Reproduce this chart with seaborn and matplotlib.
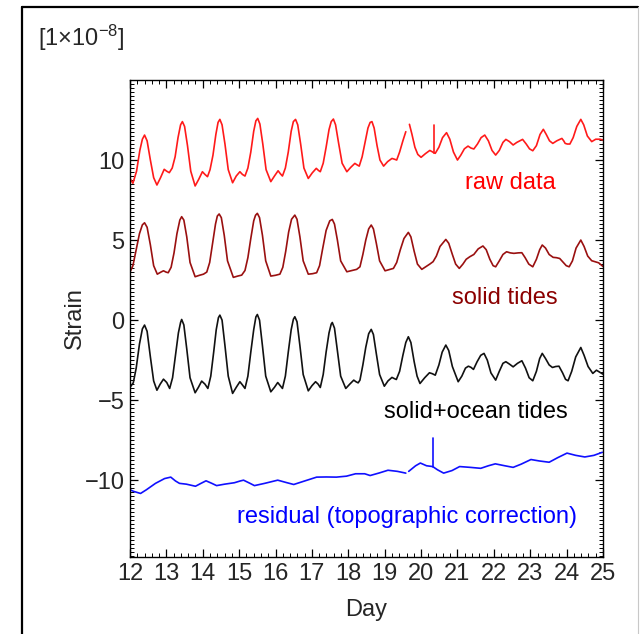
import numpy as np
import pandas as pd
import seaborn as sns
import matplotlib
matplotlib.use("Agg")
import matplotlib.pyplot as plt
from matplotlib.ticker import MultipleLocator, FixedLocator
from matplotlib.lines import Line2D

# ---------------- data ----------------
raw_day_a = [12.00, 12.08, 12.18, 12.27, 12.34, 12.40, 12.47, 12.56, 12.65, 12.74, 12.84, 12.94, 13.01, 13.08,
             13.16, 13.24, 13.32, 13.39, 13.44, 13.50, 13.58, 13.67, 13.79, 13.89, 13.99, 14.06, 14.13, 14.20,
             14.28, 14.36, 14.42, 14.47, 14.53, 14.61, 14.70, 14.82, 14.92, 15.02, 15.09, 15.16, 15.24, 15.32,
             15.40, 15.46, 15.51, 15.57, 15.65, 15.74, 15.87, 15.97, 16.07, 16.13, 16.19, 16.27, 16.35, 16.43,
             16.49, 16.55, 16.61, 16.69, 16.78, 16.90, 17.01, 17.12, 17.18, 17.23, 17.31, 17.39, 17.47, 17.53,
             17.59, 17.65, 17.73, 17.83, 17.96, 18.07, 18.18, 18.24, 18.30, 18.38, 18.46, 18.54, 18.60, 18.65,
             18.71, 18.79, 18.87, 18.97, 19.08, 19.20, 19.27, 19.33, 19.41, 19.50, 19.58]
raw_val_a = [8.85, 8.55, 9.3, 10.6, 11.3, 11.56, 11.2, 10.0, 8.9, 8.44, 8.9, 9.42, 9.3, 9.21,
             9.5, 10.2, 11.4, 12.2, 12.40, 12.1, 10.9, 9.3, 8.38, 8.8, 9.27, 9.1, 8.96, 9.4,
             10.3, 11.6, 12.35, 12.54, 12.2, 11.0, 9.4, 8.58, 9.0, 9.27, 9.1, 9.0, 9.5, 10.5,
             11.8, 12.45, 12.6, 12.25, 11.0, 9.4, 8.65, 9.0, 9.33, 9.15, 9.0, 9.5, 10.5, 11.8,
             12.4, 12.54, 12.2, 11.0, 9.5, 8.85, 9.2, 9.48, 9.35, 9.27, 9.8, 10.8, 11.9, 12.4,
             12.56, 12.2, 11.1, 9.8, 9.27, 9.55, 9.79, 9.7, 9.62, 10.2, 11.1, 12.0, 12.35, 12.40,
             12.0, 10.9, 10.0, 9.62, 9.9, 10.1, 10.05, 10.0, 10.5, 11.2, 11.77]
raw_day_b = [19.68, 19.75, 19.83, 19.91, 20.00, 20.12, 20.24, 20.32, 20.35, 20.39, 20.49, 20.59, 20.70, 20.79,
             20.89, 21.00, 21.09, 21.19, 21.29, 21.37, 21.45, 21.55, 21.65, 21.75, 21.85, 21.95, 22.05, 22.15,
             22.25, 22.33, 22.43, 22.53, 22.63, 22.79, 22.89, 22.98, 23.07, 23.17, 23.27, 23.36, 23.44, 23.53,
             23.62, 23.73, 23.87, 23.92, 23.96, 24.02, 24.09, 24.18, 24.28, 24.39, 24.47, 24.57, 24.69, 24.80,
             24.92, 25.00]
raw_val_b = [12.23, 11.6, 10.8, 10.35, 10.17, 10.4, 10.6, 10.5, 10.45, 10.42, 10.8, 11.4, 11.71, 11.3,
             10.5, 10.0, 10.3, 10.7, 10.87, 10.75, 10.69, 11.0, 11.4, 11.56, 11.2, 10.6, 10.31, 10.6,
             11.1, 11.29, 11.15, 10.94, 11.1, 11.29, 11.0, 10.7, 10.58, 10.9, 11.6, 11.92, 11.6, 11.2,
             11.04, 11.2, 11.35, 11.2, 11.04, 11.0, 11.0, 11.4, 12.1, 12.54, 12.2, 11.5, 11.15, 11.3,
             11.3, 11.25]
raw_spike_day = [20.35, 20.35]
raw_spike_val = [10.45, 12.19]

solid_day = [12.00, 12.08, 12.16, 12.26, 12.34, 12.40, 12.47, 12.56, 12.65, 12.75, 12.85, 12.92, 12.99, 13.05,
             13.13, 13.21, 13.29, 13.37, 13.42, 13.48, 13.56, 13.65, 13.79, 13.91, 14.02, 14.11, 14.19, 14.27,
             14.35, 14.40, 14.45, 14.51, 14.59, 14.68, 14.84, 14.96, 15.07, 15.16, 15.24, 15.32, 15.40, 15.45,
             15.50, 15.56, 15.64, 15.73, 15.87, 16.00, 16.12, 16.20, 16.28, 16.36, 16.44, 16.53, 16.59, 16.67,
             16.76, 16.90, 17.02, 17.13, 17.21, 17.29, 17.39, 17.49, 17.56, 17.62, 17.70, 17.79, 17.96, 18.11,
             18.23, 18.32, 18.40, 18.48, 18.56, 18.63, 18.69, 18.77, 18.86, 19.01, 19.12, 19.24, 19.33, 19.43,
             19.53, 19.65, 19.72, 19.81, 19.90, 20.02, 20.14, 20.24, 20.33, 20.42, 20.52, 20.68, 20.76, 20.86,
             20.95, 21.05, 21.15, 21.24, 21.34, 21.45, 21.57, 21.70, 21.79, 21.89, 21.98, 22.05, 22.15, 22.25,
             22.35, 22.45, 22.55, 22.67, 22.77, 22.86, 22.96, 23.07, 23.17, 23.26, 23.33, 23.42, 23.52, 23.63,
             23.72, 23.81, 23.91, 23.99, 24.07, 24.16, 24.26, 24.39, 24.48, 24.58, 24.69, 24.78, 24.88, 25.00]
solid_val = [3.00, 3.4, 4.3, 5.4, 5.95, 6.08, 5.8, 4.7, 3.4, 2.87, 3.0, 3.08, 3.0, 2.96,
             3.3, 4.2, 5.4, 6.25, 6.46, 6.25, 5.2, 3.6, 2.71, 2.8, 2.87, 3.0, 3.6, 4.8,
             6.0, 6.5, 6.63, 6.4, 5.3, 3.7, 2.67, 2.75, 2.81, 3.1, 3.9, 5.1, 6.2, 6.55,
             6.67, 6.4, 5.3, 3.7, 2.75, 2.8, 2.87, 3.3, 4.3, 5.5, 6.3, 6.56, 6.3, 5.2,
             3.7, 2.87, 2.9, 2.96, 3.4, 4.4, 5.6, 6.2, 6.29, 6.0, 5.0, 3.7, 3.02, 3.1,
             3.17, 3.33, 4.1, 5.0, 5.7, 5.94, 5.7, 4.8, 3.7, 3.08, 3.15, 3.23, 3.6, 4.4,
             5.1, 5.48, 5.2, 4.3, 3.5, 3.17, 3.35, 3.5, 3.65, 4.0, 4.6, 5.04, 4.8, 4.1,
             3.5, 3.23, 3.5, 3.8, 3.96, 4.1, 4.45, 4.63, 4.4, 3.8, 3.4, 3.33, 3.7, 4.1,
             4.27, 4.2, 4.17, 4.2, 4.21, 3.9, 3.5, 3.33, 3.8, 4.4, 4.69, 4.5, 4.1, 3.92,
             3.9, 3.85, 3.6, 3.4, 3.33, 3.7, 4.5, 5.0, 4.6, 4.0, 3.71, 3.65, 3.58, 3.35]

ocean_day = [12.00, 12.09, 12.17, 12.26, 12.34, 12.40, 12.47, 12.56, 12.65, 12.74, 12.83, 12.92, 13.01, 13.09,
             13.17, 13.25, 13.33, 13.39, 13.42, 13.48, 13.56, 13.65, 13.79, 13.88, 13.97, 14.06, 14.14, 14.22,
             14.30, 14.37, 14.43, 14.47, 14.53, 14.61, 14.70, 14.82, 14.92, 15.02, 15.09, 15.16, 15.24, 15.32,
             15.40, 15.46, 15.50, 15.56, 15.64, 15.73, 15.87, 15.97, 16.06, 16.13, 16.19, 16.27, 16.35, 16.43,
             16.49, 16.53, 16.59, 16.67, 16.76, 16.90, 17.00, 17.10, 17.17, 17.23, 17.31, 17.39, 17.47, 17.53,
             17.56, 17.62, 17.70, 17.79, 17.93, 18.04, 18.15, 18.21, 18.27, 18.32, 18.40, 18.48, 18.56, 18.63,
             18.69, 18.77, 18.86, 18.99, 19.09, 19.20, 19.26, 19.32, 19.41, 19.50, 19.58, 19.65, 19.72, 19.81,
             19.89, 19.97, 20.10, 20.23, 20.31, 20.39, 20.49, 20.58, 20.68, 20.76, 20.86, 21.02, 21.12, 21.22,
             21.30, 21.37, 21.44, 21.54, 21.64, 21.73, 21.82, 21.92, 22.05, 22.15, 22.25, 22.33, 22.43, 22.53,
             22.65, 22.77, 22.87, 22.97, 23.07, 23.17, 23.26, 23.33, 23.42, 23.52, 23.61, 23.70, 23.79, 23.89,
             23.97, 24.04, 24.14, 24.25, 24.39, 24.48, 24.59, 24.72, 24.82, 25.00]
ocean_val = [-4.2, -3.92, -3.0, -1.5, -0.55, -0.31, -0.7, -2.3, -3.8, -4.38, -4.0, -3.69, -3.9, -4.27,
             -3.6, -2.2, -0.8, -0.15, 0.04, -0.3, -1.8, -3.6, -4.54, -4.2, -3.81, -4.0, -4.27, -3.5,
             -2.0, -0.6, 0.15, 0.31, 0.0, -1.6, -3.5, -4.58, -4.2, -3.85, -4.05, -4.27, -3.5, -2.0,
             -0.6, 0.2, 0.35, 0.0, -1.6, -3.5, -4.48, -4.2, -3.90, -4.1, -4.27, -3.5, -2.0, -0.6,
             0.05, 0.21, -0.1, -1.6, -3.4, -4.42, -4.1, -3.85, -4.0, -4.21, -3.4, -2.0, -0.8, -0.25,
             -0.15, -0.5, -1.9, -3.5, -4.27, -4.0, -3.75, -3.85, -3.92, -3.75, -2.8, -1.7, -0.85, -0.58,
             -0.9, -2.1, -3.4, -4.13, -3.8, -3.58, -3.65, -3.71, -3.2, -2.2, -1.4, -1.04, -1.4, -2.6,
             -3.5, -3.96, -3.6, -3.29, -3.35, -3.44, -2.8, -2.0, -1.56, -1.9, -2.9, -3.85, -3.5, -3.0,
             -2.88, -2.95, -3.08, -2.6, -2.2, -2.08, -2.5, -3.3, -3.75, -3.2, -2.7, -2.60, -2.75, -2.92,
             -2.7, -2.54, -3.0, -3.6, -3.79, -3.2, -2.4, -2.08, -2.4, -2.8, -2.96, -2.9, -2.88, -3.3,
             -3.7, -3.79, -3.2, -2.3, -1.71, -2.2, -2.9, -3.33, -3.13, -3.38]

resid_day_a = [12.00, 12.10, 12.29, 12.45, 12.70, 12.95, 13.12, 13.25, 13.36, 13.55, 13.80, 13.95, 14.09, 14.25,
               14.38, 14.60, 14.87, 15.03, 15.12, 15.30, 15.42, 15.70, 16.06, 16.30, 16.50, 16.80, 17.13, 17.40,
               17.67, 17.95, 18.20, 18.45, 18.60, 18.85, 19.09, 19.35, 19.58]
resid_val_a = [-10.6, -10.7, -10.83, -10.6, -10.2, -9.9, -9.81, -10.05, -10.2, -10.25, -10.38, -10.2, -10.04, -10.2,
               -10.34, -10.25, -10.16, -10.05, -10.0, -10.2, -10.34, -10.2, -10.0, -10.15, -10.27, -10.05, -9.81, -9.8,
               -9.81, -9.75, -9.6, -9.6, -9.71, -9.55, -9.38, -9.45, -9.56]
resid_day_b = [19.66, 19.85, 19.98, 20.15, 20.32, 20.45, 20.62, 20.85, 21.06, 21.35, 21.64, 21.85, 22.04, 22.30,
               22.53, 22.75, 23.02, 23.25, 23.52, 23.75, 24.01, 24.25, 24.50, 24.75, 24.98]
resid_val_b = [-9.45, -9.1, -8.93, -9.1, -9.15, -9.35, -9.56, -9.4, -9.15, -9.2, -9.26, -9.1, -8.98, -9.1,
               -9.2, -9.0, -8.71, -8.8, -8.88, -8.6, -8.31, -8.45, -8.55, -8.45, -8.26]
resid_spike_day = [20.32, 20.32]
resid_spike_val = [-9.15, -7.37]

series_labels = ["raw data", "solid tides", "solid+ocean tides", "residual (topographic correction)"]
x_ticks = list(range(12, 26))
y_ticks = [-10, -5, 0, 5, 10]

# ---------------- build long table ----------------
rows = []
def add(name, seg, days, vals):
    for d, v in zip(days, vals):
        rows.append((name, seg, d, v))

add("raw", "raw_a", raw_day_a, raw_val_a)
add("raw", "raw_b", raw_day_b, raw_val_b)
add("raw", "raw_s", raw_spike_day, raw_spike_val)
add("solid", "solid", solid_day, solid_val)
add("ocean", "ocean", ocean_day, ocean_val)
add("resid", "resid_a", resid_day_a, resid_val_a)
add("resid", "resid_b", resid_day_b, resid_val_b)
add("resid", "resid_s", resid_spike_day, resid_spike_val)
df = pd.DataFrame(rows, columns=["series", "seg", "day", "strain"])

colors = {"raw": "#ff1a1a", "solid": "#9a1010", "ocean": "#111111", "resid": "#1010ff"}
text_colors = {"raw": "#ff0000", "solid": "#8b0000", "ocean": "#000000", "resid": "#0000ff"}

# ---------------- figure ----------------
sns.set_style("ticks")
plt.rcParams["font.family"] = ["Liberation Sans", "DejaVu Sans"]
plt.rcParams["mathtext.fontset"] = "custom"
plt.rcParams["mathtext.rm"] = "Liberation Sans"
plt.rcParams["mathtext.it"] = "Liberation Sans:italic"

fig = plt.figure(figsize=(6.40, 6.34), dpi=100)
ax = fig.add_axes([130 / 640, 1 - 557 / 634, (603 - 130) / 640, (557 - 80) / 634])

for name in ["raw", "solid", "ocean", "resid"]:
    sub = df[df.series == name]
    sns.lineplot(data=sub, x="day", y="strain", units="seg", estimator=None, sort=False,
                 color=colors[name], lw=1.2, ax=ax, legend=False)

ax.set_xlim(12, 25)
ax.set_ylim(-14.8, 15.0)
ax.xaxis.set_major_locator(FixedLocator(x_ticks))
ax.xaxis.set_minor_locator(MultipleLocator(0.2))
ax.yaxis.set_major_locator(FixedLocator(y_ticks))
ax.yaxis.set_minor_locator(MultipleLocator(0.25))
ax.tick_params(which="both", direction="in", top=True, right=True, labelsize=17, pad=4, color="black")
ax.tick_params(which="major", length=6, width=0.9)
ax.tick_params(which="minor", length=3, width=0.7)
for sp in ax.spines.values():
    sp.set_linewidth(1.0)
    sp.set_color("black")

ax.set_xlabel("Day", fontsize=17)
ax.set_ylabel("Strain", fontsize=17)
ax.xaxis.set_label_coords(0.5, -0.111)
ax.yaxis.set_label_coords(-0.116, 0.5)
ax.xaxis.label.set_va("center")
ax.yaxis.label.set_va("center")

fs = 17
ax.text(22.45, 8.56, series_labels[0], color=text_colors["raw"], fontsize=fs, ha="center", va="center")
ax.text(22.31, 1.375, series_labels[1], color=text_colors["solid"], fontsize=fs, ha="center", va="center")
ax.text(21.5, -5.75, series_labels[2], color=text_colors["ocean"], fontsize=fs, ha="center", va="center")
ax.text(19.6, -12.3, series_labels[3], color=text_colors["resid"], fontsize=fs, ha="center", va="center")

fig.text(38 / 640, 1 - 38 / 634, r"[1$\times$10$^{-8}$]", fontsize=17, ha="left", va="center")

# outer border of the original graphic
fig.add_artist(Line2D([22 / 640, 22 / 640], [0, 1 - 7 / 634], color="black", lw=1.6, transform=fig.transFigure))
fig.add_artist(Line2D([22 / 640, 638 / 640], [1 - 7 / 634, 1 - 7 / 634], color="black", lw=1.6, transform=fig.transFigure))
fig.add_artist(Line2D([638 / 640, 638 / 640], [0, 1 - 7 / 634], color="#c8c8c8", lw=0.8, transform=fig.transFigure))

fig.savefig("out.png", dpi=100)
